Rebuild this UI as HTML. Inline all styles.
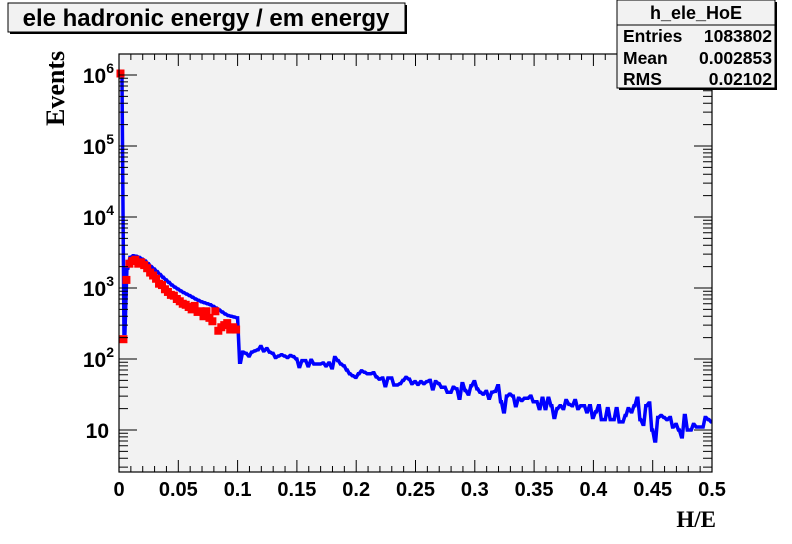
<!DOCTYPE html>
<html><head><meta charset="utf-8"><style>
body{margin:0;background:#fff;width:792px;height:544px;overflow:hidden;font-family:"Liberation Sans",Arial,sans-serif}
svg{display:block}
</style></head><body>
<svg id="c" width="792" height="544" xmlns="http://www.w3.org/2000/svg">
<rect x="0" y="0" width="792" height="544" fill="#fff"/>
<g>
<rect x="10" y="5" width="397" height="29" fill="#000"/>
<rect x="8" y="3" width="397" height="29" fill="#f2f2f2" stroke="#000" stroke-width="1"/>
<text x="206" y="26" text-anchor="middle" font-size="24" font-weight="bold">ele hadronic energy / em energy</text>
</g>
<rect x="119" y="54" width="593" height="418" fill="#f2f2f2"/>
<g id="marks"></g>
<rect x="119" y="54" width="593" height="418" fill="none" stroke="#000" stroke-width="1.2"/>
<g id="axes"></g>
<g>
<rect x="619" y="2" width="158" height="88" fill="#000"/>
<rect x="617" y="0" width="158" height="88" fill="#f2f2f2" stroke="#000" stroke-width="1"/>
<line x1="617" y1="25" x2="775" y2="25" stroke="#000"/>
<text x="696" y="19" text-anchor="middle" font-size="18" font-weight="bold">h_ele_HoE</text>
<text x="623" y="42" font-size="17.5" font-weight="bold">Entries</text>
<text x="772" y="42" text-anchor="end" font-size="17.5" font-weight="bold">1083802</text>
<text x="623" y="64" font-size="17.5" font-weight="bold">Mean</text>
<text x="772" y="64" text-anchor="end" font-size="17.5" font-weight="bold">0.002853</text>
<text x="623" y="85" font-size="17.5" font-weight="bold">RMS</text>
<text x="772" y="85" text-anchor="end" font-size="17.5" font-weight="bold">0.02102</text>
</g>
<text transform="translate(64,126) rotate(-90)" font-family="Liberation Serif,serif" font-size="26" font-weight="bold">Events</text>
<text x="716" y="527" text-anchor="end" font-family="Liberation Serif,serif" font-size="23" font-weight="bold">H/E</text>
</svg>
<script>
const binWidth = 0.0025;
const blueCounts = [1050000,230,1900,2700,2850,2800,2700,2550,2400,2200,2000,1850,1700,1550,1420,1300,1200,1100,1030,970,910,860,820,780,740,700,670,640,620,600,580,550,520,490,460,430,410,400,390,380,
90,125,120,110,125,130,135,150,130,140,
125,120,105,110,115,110,105,112,108,100,
78,95,95,80,96,85,85,85,88,80,
88,75,105,95,85,80,70,62,58,55,
62,68,65,62,62,64,56,52,54,42,
54,54,43,43,45,50,55,52,45,48,
44,48,45,48,50,38,48,45,40,40,
34,34,40,38,28,45,36,32,42,48,
38,34,32,35,28,34,35,42,25,18,
30,32,30,22,28,26,28,28,30,25,
25,20,28,20,28,22,15,20,22,20,
26,23,22,26,20,22,22,18,22,15,
18,22,14,14,20,14,14,20,13,13,
16,20,18,22,28,14,12,22,24,10,
7,15,16,15,14,15,11,12,10,8,
16,10,10,12,11,11,11,15,14,13];
const redCounts = [1050000,190,1300,2200,2400,2500,2200,2300,2100,1900,1650,1500,1350,1150,1100,960,880,800,780,700,650,600,580,540,500,560,460,470,400,470,380,340,470,250,280,300,320,260,280,260];
const xTickLabels = ["0","0.05","0.1","0.15","0.2","0.25","0.3","0.35","0.4","0.45","0.5"];
const yDecades = [1,2,3,4,5,6];

const X0=119,X1=712,Y0=472,Y1=54;
const xs = v => X0 + v/0.5*(X1-X0);
const ys = v => { let p = 430 - (Math.log10(Math.max(v,1e-3))-1)*71; return Math.min(Y0, Math.max(Y1, p)); };
const NS="http://www.w3.org/2000/svg";
const marks=document.getElementById('marks'), axes=document.getElementById('axes');
function mk(tag, attrs, parent){const e=document.createElementNS(NS,tag);for(const k in attrs)e.setAttribute(k,attrs[k]);parent.appendChild(e);return e;}

// blue histogram
let d = "";
blueCounts.forEach((v,i)=>{const y=ys(v);d+=(i===0?"M":" L")+(xs(i*binWidth)+2)+","+y+" L"+xs((i+1)*binWidth)+","+y;});
const bl = mk('path',{d:d,fill:'none',stroke:'#0000ff','stroke-width':3.5,'stroke-linejoin':'miter'},marks);



// red points
redCounts.forEach((v,i)=>{
  const cx=xs((i+0.5)*binWidth), cy=ys(v);
  const e=Math.sqrt(v);
  const g=mk('g',{},marks);
  
  
  mk('line',{x1:cx,x2:cx,y1:ys(v+e),y2:ys(Math.max(v-e,1)),stroke:'#ff0000','stroke-width':2},g);
  mk('rect',{x:cx-4,y:cy-4,width:8,height:8,fill:'#ff0000'},g);
});

// x ticks
for(let i=0;i<=50;i++){
  const x=xs(i*0.01), L=(i%5===0)?12:6;
  mk('line',{x1:x,x2:x,y1:Y0,y2:Y0-L,stroke:'#000','stroke-width':1},axes);
  mk('line',{x1:x,x2:x,y1:Y1,y2:Y1+L,stroke:'#000','stroke-width':1},axes);
}
xTickLabels.forEach((t,i)=>{
  const tx=mk('text',{x:xs(i*0.05),y:496,'text-anchor':'middle','font-size':20,'font-weight':'bold'},axes);
  tx.textContent=t;
  
  
});
// y ticks
for(let dec=0;dec<=6;dec++){
  for(let m=1;m<=9;m++){
    const v=m*Math.pow(10,dec); const y=430-(Math.log10(v)-1)*71;
    if(y>Y0||y<Y1) continue;
    const L=(m===1)?18:9;
    mk('line',{x1:X0,x2:X0+L,y1:y,y2:y,stroke:'#000','stroke-width':1},axes);
    mk('line',{x1:X1,x2:X1-L,y1:y,y2:y,stroke:'#000','stroke-width':1},axes);
  }
}
yDecades.forEach(p=>{
  const y=430-(p-1)*71;
  const tx=mk('text',{x:109,y:y+8,'text-anchor':'end','font-size':21,'font-weight':'bold'},axes);
  
  
  if(p===1){tx.textContent='10';}
  else{tx.textContent='10';const s=mk('tspan',{dy:-10,'font-size':14},tx);s.textContent=String(p);tx.setAttribute('x',114);}
});
</script>
</body></html>
